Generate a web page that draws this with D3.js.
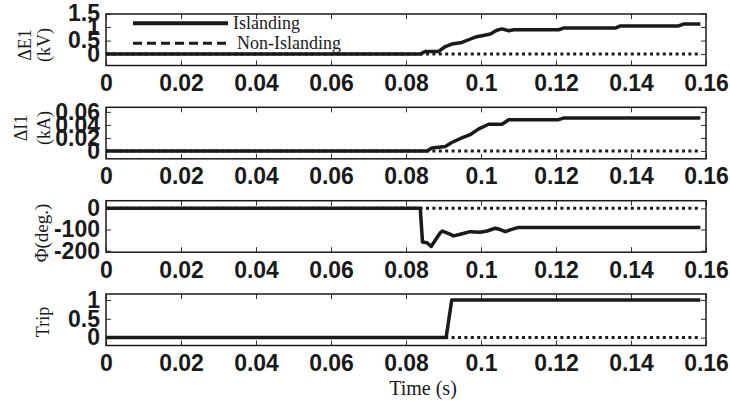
<!DOCTYPE html>
<html>
<head>
<meta charset="utf-8">
<script src="https://cdn.jsdelivr.net/npm/d3@7"></script>
<style>
  body { margin: 0; background: #fff; }
  .tick text { font-family: "Liberation Sans", Arial, sans-serif; font-weight: bold; font-size: 23px; fill: #1a1a1a; }
  .tick line { stroke: #333; stroke-width: 1; }
  .lab { font-family: "Liberation Serif", "Times New Roman", serif; fill: #1a1a1a; }
</style>
</head>
<body>
<div id="chart"></div>
<script>
// x axis (time, s)
var xTicks = [0, 0.02, 0.04, 0.06, 0.08, 0.1, 0.12, 0.14, 0.16];

// panel 1: delta E1 (kV)
var timeE1   = [0, 0.0838, 0.0851, 0.0887, 0.0905, 0.0922, 0.0949, 0.0967, 0.0985, 0.1003, 0.1025, 0.1042, 0.1056, 0.1074, 0.1087, 0.1207, 0.1220, 0.1358, 0.1372, 0.1527, 0.1540, 0.1585];
var islandE1 = [0, 0,      0.10,   0.10,   0.28,   0.37,   0.43,   0.53,   0.63,   0.68,   0.74,   0.88,   0.93,   0.86,   0.90,   0.90,   0.96,   0.96,   1.04,   1.04,   1.11,   1.11];
var yTicksE1 = [0, 0.5, 1, 1.5];

// panel 2: delta I1 (kA)
var timeI1   = [0, 0.0856, 0.0869, 0.0905, 0.0922, 0.0949, 0.0971, 0.0993, 0.1020, 0.1056, 0.1074, 0.1207, 0.1220, 0.1585];
var islandI1 = [0, 0,      0.0046, 0.007,  0.013,  0.020,  0.025,  0.0336, 0.041,  0.041,  0.048,  0.048,  0.0504, 0.0504];
var yTicksI1 = [0, 0.02, 0.04, 0.06];

// panel 3: phase (deg.)
var timePhi   = [0, 0.0838, 0.0844, 0.0856, 0.0867, 0.0878, 0.0891, 0.0897, 0.0914, 0.0927, 0.0945, 0.0971, 0.0998, 0.1016, 0.1038, 0.1051, 0.1065, 0.1082, 0.1100, 0.1585];
var islandPhi = [0, 0,      -159,   -162,   -180,   -151,   -116,   -107,   -119,   -130,   -122,   -110,   -113,   -107,   -94,    -100,   -110,   -99,    -90,    -90];
var yTicksPhi = [-200, -100, 0];

// panel 4: trip signal
var timeTrip   = [0, 0.0907, 0.0922, 0.1585];
var islandTrip = [0, 0,      1,      1];
var yTicksTrip = [0, 0.5, 1];

// non-islanding case stays at zero in every panel
var timeNon  = [0, 0.1585];
var valueNon = [0, 0];

var legendNames = ["Islanding", "Non-Islanding"];

var width = 730, height = 404;
var left = 106, right = 706, panelH = 51.5;

var svg = d3.select("#chart").append("svg")
    .attr("width", width)
    .attr("height", height);

var x = d3.scaleLinear().domain([0, 0.16]).range([left, right]);

var panels = [
  {top: 14,    dom: [-0.42, 1.48],   ticks: yTicksE1,   t: timeE1,   v: islandE1},
  {top: 107.3, dom: [-0.012, 0.067], ticks: yTicksI1,   t: timeI1,   v: islandI1},
  {top: 200.7, dom: [-207, 36],      ticks: yTicksPhi,  t: timePhi,  v: islandPhi},
  {top: 294,   dom: [-0.21, 1.16],   ticks: yTicksTrip, t: timeTrip, v: islandTrip}
];

panels.forEach(function(p) {
  var y = d3.scaleLinear().domain(p.dom).range([p.top + panelH, p.top]);
  var g = svg.append("g");

  // ticks on all four sides, pointing inward
  g.append("g")
      .attr("transform", "translate(0," + (p.top + panelH) + ")")
      .call(d3.axisBottom(x).tickValues(xTicks).tickSizeInner(-5).tickSizeOuter(0).tickPadding(9)
        .tickFormat(function(d) { return String(+d.toFixed(2)); }));
  g.append("g")
      .attr("transform", "translate(0," + p.top + ")")
      .call(d3.axisTop(x).tickValues(xTicks).tickSizeInner(-5).tickSizeOuter(0).tickFormat(""));
  g.append("g")
      .attr("transform", "translate(" + left + ",0)")
      .call(d3.axisLeft(y).tickValues(p.ticks).tickSizeInner(-5).tickSizeOuter(0).tickPadding(6)
        .tickFormat(function(d) { return String(d); }));
  g.append("g")
      .attr("transform", "translate(" + right + ",0)")
      .call(d3.axisRight(y).tickValues(p.ticks).tickSizeInner(-5).tickSizeOuter(0).tickFormat(""));
  g.selectAll(".domain").remove();

  var line = d3.line()
      .x(function(d) { return x(d[0]); })
      .y(function(d) { return y(d[1]); });

  // non-islanding (dotted)
  g.append("path")
      .datum(d3.zip(timeNon, valueNon))
      .attr("d", line)
      .attr("fill", "none")
      .attr("stroke", "#1a1a1a")
      .attr("stroke-width", 3)
      .attr("stroke-dasharray", "3,3.4");

  // islanding (solid)
  g.append("path")
      .datum(d3.zip(p.t, p.v))
      .attr("d", line)
      .attr("fill", "none")
      .attr("stroke", "#1a1a1a")
      .attr("stroke-width", 3.5)
      .attr("stroke-linejoin", "round");

  // axes box
  g.append("rect")
      .attr("x", left)
      .attr("y", p.top)
      .attr("width", right - left)
      .attr("height", panelH)
      .attr("fill", "none")
      .attr("stroke", "#1a1a1a")
      .attr("stroke-width", 1.5);
});

// legend (top panel, no frame)
var legend = svg.append("g");
legend.append("line").attr("x1", 133).attr("x2", 228).attr("y1", 23.3).attr("y2", 23.3)
    .attr("stroke", "#1a1a1a").attr("stroke-width", 4);
legend.append("line").attr("x1", 133).attr("x2", 228).attr("y1", 43.3).attr("y2", 43.3)
    .attr("stroke", "#1a1a1a").attr("stroke-width", 3).attr("stroke-dasharray", "9,5");
legend.append("text").attr("class", "lab").attr("x", 233).attr("y", 29).style("font-size", "18px").text(legendNames[0]);
legend.append("text").attr("class", "lab").attr("x", 237).attr("y", 49).style("font-size", "18px").text(legendNames[1]);

// y labels (rotated)
function ylab(txt, bx, cy, size) {
  svg.append("text")
      .attr("class", "lab")
      .attr("transform", "translate(" + bx + "," + cy + ") rotate(-90)")
      .attr("text-anchor", "middle")
      .style("font-size", (size || 18) + "px")
      .text(txt);
}
ylab("\u0394E1", 31, 45);
ylab("(kV)", 50, 45);
ylab("\u0394I1", 27, 128);
ylab("(kA)", 50, 128);
ylab("\u03A6(deg.)", 48, 233, 19);
ylab("Trip", 49, 322);

// x label
svg.append("text")
    .attr("class", "lab")
    .attr("x", 423)
    .attr("y", 395)
    .attr("text-anchor", "middle")
    .style("font-size", "20px")
    .text("Time (s)");
</script>
</body>
</html>
